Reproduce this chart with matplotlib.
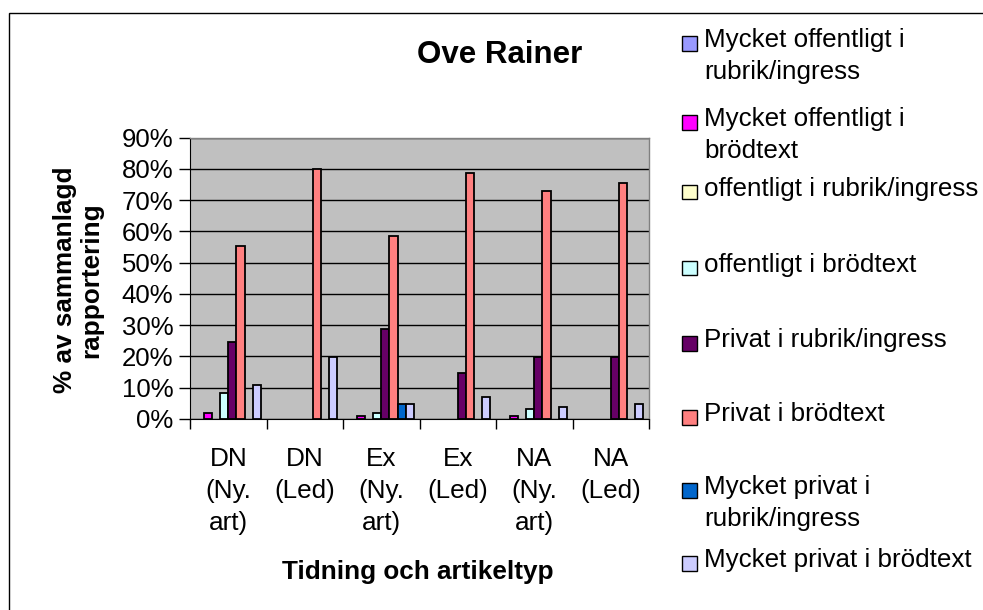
import matplotlib
matplotlib.use("Agg")
import matplotlib.pyplot as plt
from matplotlib.patches import Rectangle
import numpy as np

plt.rcParams['font.family'] = ['Liberation Sans', 'DejaVu Sans']

categories = ["DN\n(Ny.\nart)", "DN\n(Led)", "Ex\n(Ny.\nart)", "Ex\n(Led)", "NA\n(Ny.\nart)", "NA\n(Led)"]

series_names = [
    "Mycket offentligt i\nrubrik/ingress",
    "Mycket offentligt i\nbrödtext",
    "offentligt i rubrik/ingress",
    "offentligt i brödtext",
    "Privat i rubrik/ingress",
    "Privat i brödtext",
    "Mycket privat i\nrubrik/ingress",
    "Mycket privat i brödtext",
]
colors = ["#9999FF", "#FF00FF", "#FFFFCC", "#CCFFFF", "#660066", "#FF8080", "#0066CC", "#CCCCFF"]

mycket_off_rubrik = [0.0, 0.0, 0.0, 0.0, 0.0, 0.0]
mycket_off_brod = [0.018, 0.0, 0.011, 0.0, 0.011, 0.0]
off_rubrik = [0.0, 0.0, 0.0, 0.0, 0.0, 0.0]
off_brod = [0.083, 0.0, 0.018, 0.0, 0.032, 0.0]
privat_rubrik = [0.245, 0.0, 0.288, 0.147, 0.199, 0.199]
privat_brod = [0.553, 0.80, 0.585, 0.786, 0.728, 0.755]
mycket_priv_rubrik = [0.0, 0.0, 0.049, 0.0, 0.0, 0.0]
mycket_priv_brod = [0.108, 0.199, 0.049, 0.070, 0.038, 0.049]

values = [mycket_off_rubrik, mycket_off_brod, off_rubrik, off_brod,
          privat_rubrik, privat_brod, mycket_priv_rubrik, mycket_priv_brod]

W, H = 983, 610
fig = plt.figure(figsize=(W / 100, H / 100), dpi=100)
ax = fig.add_axes([190 / W, 1 - 419 / H, (649 - 190) / W, (419 - 137.5) / H])
ax.set_facecolor("#C0C0C0")

x = np.arange(len(categories))
bw = 0.107
for i, (vals, c) in enumerate(zip(values, colors)):
    lw = [1.3 if v > 0 else 0 for v in vals]
    ax.bar(x + (i - 3.5) * bw, vals, width=bw, color=c, edgecolor="black",
           linewidth=lw, zorder=3)

ax.set_xlim(-0.5, len(categories) - 0.5)
ax.set_ylim(0, 0.9)
yt = np.arange(0, 0.91, 0.1)
ax.set_yticks(yt)
ax.set_yticklabels([f"{int(round(v * 100))}%" for v in yt], fontsize=18.5)
ax.yaxis.grid(True, color="black", linewidth=1.0, zorder=1)
ax.set_axisbelow(True)

ax.set_xticks(x)
ax.set_xticklabels(categories, fontsize=18.8, linespacing=1.42)
ax.set_xticks(np.arange(-0.5, len(categories)), minor=True)
ax.tick_params(axis="x", which="major", length=0, pad=20)
ax.tick_params(axis="x", which="minor", length=7, width=1, color="black", direction="out")
ax.tick_params(axis="y", length=8, width=1, direction="out", pad=4)

for s in ["top", "right"]:
    ax.spines[s].set_color("#808080")
    ax.spines[s].set_linewidth(1.0)
ax.spines["left"].set_color("black")
ax.spines["bottom"].set_color("black")

fig.text(500 / W, 1 - 55 / H, "Ove Rainer", fontsize=22.5, fontweight="bold",
         ha="center", va="center")
fig.text(418 / W, 1 - 572 / H, "Tidning och artikeltyp", fontsize=18.8,
         fontweight="bold", ha="center", va="center")
fig.text(78 / W, 1 - 280 / H, "% av sammanlagd\nrapportering", fontsize=18.8,
         fontweight="bold", ha="center", va="center", rotation=90, linespacing=1.15)

# legend
leg_y = [43, 122, 192, 268, 343, 417, 490, 563]
for name, c, yy in zip(series_names, colors, leg_y):
    fig.patches.append(Rectangle((682 / W, 1 - (yy + 7.5) / H), 14.5 / W, 14.5 / H,
                                 transform=fig.transFigure, facecolor=c,
                                 edgecolor="black", linewidth=1.0))
    fig.text(704 / W, 1 - (yy - 15) / H, name, fontsize=18.7, ha="left", va="top",
             linespacing=1.42)

# outer chart border
fig.patches.append(Rectangle((9 / W, -0.1), 1.2, 1 - 13 / H + 0.1,
                             transform=fig.transFigure, facecolor="none",
                             edgecolor="black", linewidth=1.0))

fig.savefig("out.png", dpi=100, facecolor="white")
